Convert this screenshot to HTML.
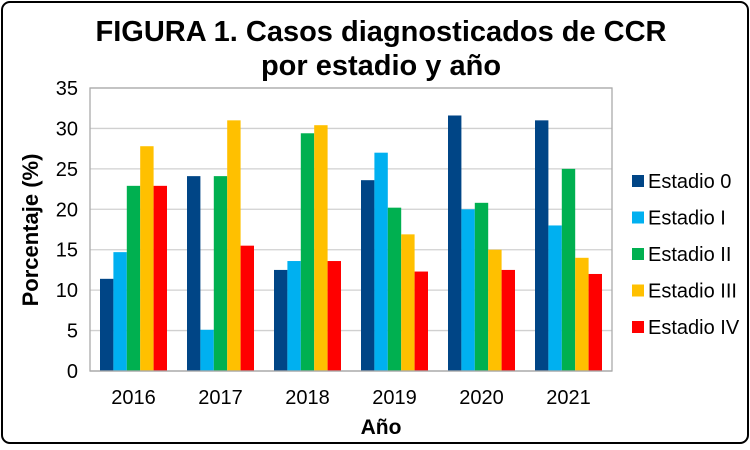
<!DOCTYPE html>
<html><head><meta charset="utf-8"><style>
body{margin:0;background:#fff;font-family:"Liberation Sans",Arial,sans-serif}
</style></head><body>
<svg width="750" height="445" viewBox="0 0 750 445">
<rect x="2" y="2" width="746" height="441" rx="8" fill="#fff" stroke="#000" stroke-width="2"/>
<text x="381" y="41" text-anchor="middle" font-size="29" font-weight="bold">FIGURA 1. Casos diagnosticados de CCR</text>
<text x="381" y="75" text-anchor="middle" font-size="29" font-weight="bold">por estadio y año</text>
<g id="grid"></g><g id="bars"></g><g id="axes"></g><g id="legend"></g>
<text x="381" y="434" text-anchor="middle" font-size="21" font-weight="bold">Año</text>
<text transform="translate(38,230) rotate(-90)" text-anchor="middle" font-size="22" font-weight="bold">Porcentaje (%)</text>
</svg>
<script>
const categories=["2016","2017","2018","2019","2020","2021"];
const seriesNames=["Estadio 0","Estadio I","Estadio II","Estadio III","Estadio IV"];
const estadio0=[11.4,24.1,12.5,23.6,31.6,31.0];
const estadio1=[14.7,5.1,13.6,27.0,20.0,18.0];
const estadio2=[22.9,24.1,29.4,20.2,20.8,25.0];
const estadio3=[27.8,31.0,30.4,16.9,15.0,14.0];
const estadio4=[22.9,15.5,13.6,12.3,12.5,12.0];
const yTicks=[0,5,10,15,20,25,30,35];
const colors=["#004586","#00b0f0","#00b050","#ffc000","#ff0000"];
const series=[estadio0,estadio1,estadio2,estadio3,estadio4];
const NS="http://www.w3.org/2000/svg";
const L=90,R=612,T=88,B=371,yMax=35;
const y=v=>B-(v/yMax)*(B-T);
const cw=(R-L)/categories.length, bw=13.4;
const x=(i,s)=>L+i*cw+(cw-5*bw)/2+s*bw;
function mk(t,a,p){const e=document.createElementNS(NS,t);for(const k in a)e.setAttribute(k,a[k]);p.appendChild(e);return e;}
const g=document.getElementById('grid'),bg=document.getElementById('bars'),ax=document.getElementById('axes'),lg=document.getElementById('legend');
yTicks.forEach(v=>{
  const ln=mk('line',{x1:L,x2:R,y1:y(v),y2:y(v),stroke:v===0?'#999':'#d0d0d0','stroke-width':1.3},g);
  
  
  const t=mk('text',{x:L-12,y:y(v)+7,'text-anchor':'end','font-size':20},ax);
  t.textContent=v;
  
  
});
const fr=mk('rect',{x:L,y:T,width:R-L,height:B-T,fill:'none',stroke:'#aaa','stroke-width':1.3},ax);


categories.forEach((c,i)=>{
  series.forEach((d,s)=>{
    const r=mk('rect',{x:x(i,s),y:y(d[i]),width:bw,height:B-y(d[i]),fill:colors[s]},bg);
    
    
  });
  const t=mk('text',{x:L+i*cw+cw/2,y:404,'text-anchor':'middle','font-size':20},ax);
  t.textContent=c;
  
  
});
seriesNames.forEach((n,s)=>{
  const yy=181+s*36.5;
  const r=mk('rect',{x:632,y:yy-6,width:12,height:12,fill:colors[s]},lg);
  
  
  const t=mk('text',{x:648,y:yy+7,'font-size':20},lg);
  t.textContent=n;
  
  
});
</script>
</body></html>
